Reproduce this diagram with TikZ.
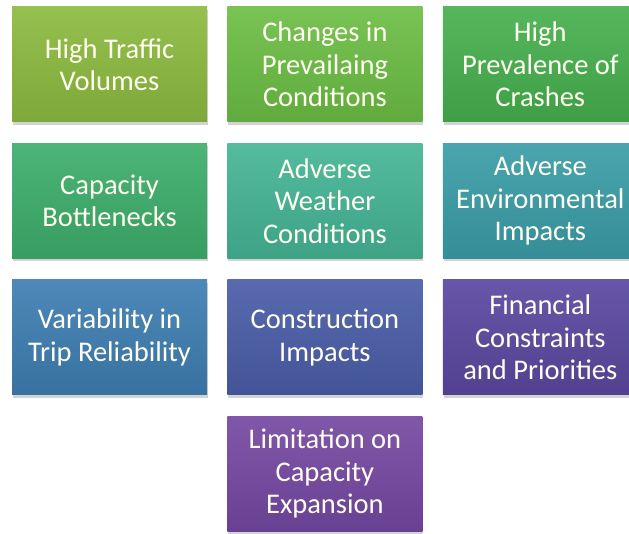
\documentclass[tikz,border=0pt]{standalone}
\usepackage{fontspec}
\setmainfont{Carlito}
\usepackage{xcolor}
\usetikzlibrary{positioning,shadows}
\definecolor{cgone}{HTML}{8CBB40}
\definecolor{cgtwo}{HTML}{6CBE45}
\definecolor{cgthree}{HTML}{46B04E}
\definecolor{cgfour}{HTML}{3DAE6C}
\definecolor{cgfive}{HTML}{45B595}
\definecolor{cgsix}{HTML}{3A9DA8}
\definecolor{cgseven}{HTML}{3E7EB2}
\definecolor{cgeight}{HTML}{4A5DA8}
\definecolor{cgnine}{HTML}{5A48A0}
\definecolor{cgten}{HTML}{7548A2}

\begin{document}
\begin{tikzpicture}[x=1pt, y=1pt,
    node distance=20pt and 20pt,
    cause/.style={minimum width=195pt, minimum height=115pt, inner sep=0pt, align=center,
      text=white!94!yellow, font=\fontsize{28.5}{32.5}\selectfont,
      top color=#1!92!white, bottom color=#1!90!black,
      drop shadow={opacity=0.35, shadow xshift=1pt, shadow yshift=-3pt}}
  ]
    \useasboundingbox (0,0) rectangle (629,533);
    \node[cause=cgone] (traffic) at (109.5,468.5) {High Traffic\\Volumes};
    \node[cause=cgtwo, right=of traffic] (changes) {Changes in\\Prevailaing\\Conditions};
    \node[cause=cgthree, right=of changes] (crashes) {High\\Prevalence of\\Crashes};
    \node[cause=cgfour, below=21pt of traffic] (bottleneck) {Capacity\\Bottlenecks};
    \node[cause=cgfive, right=of bottleneck] (weather) {Adverse\\Weather\\Conditions};
    \node[cause=cgsix, right=of weather] (environ) {Adverse\\Environmental\\Impacts};
    \node[cause=cgseven, below=21pt of bottleneck] (reliab) {Variability in\\Trip Reliability};
    \node[cause=cgeight, right=of reliab] (construct) {Construction\\Impacts};
    \node[cause=cgnine, right=of construct] (finance) {Financial\\Constraints\\and Priorities};
    \node[cause=cgten, below=21pt of construct] (expand) {Limitation on\\Capacity\\Expansion};
\end{tikzpicture}
\end{document}
